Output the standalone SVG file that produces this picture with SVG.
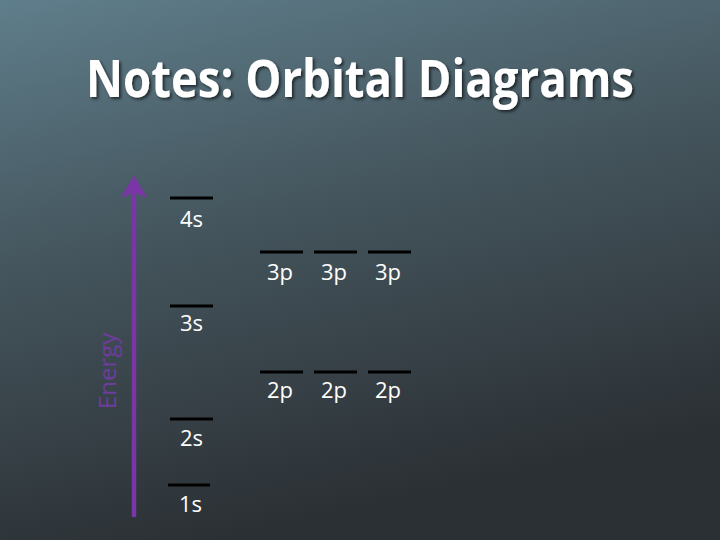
<svg xmlns="http://www.w3.org/2000/svg" width="720" height="540" viewBox="0 0 720 540">
<defs>
<linearGradient id="bg" x1="0" y1="0" x2="0.3" y2="1">
<stop offset="0" stop-color="#5f7e8b"/>
<stop offset="0.45" stop-color="#45565e"/>
<stop offset="1" stop-color="#2b3034"/>
</linearGradient>
<filter id="sh" x="-5%" y="-20%" width="110%" height="140%">
<feDropShadow dx="2" dy="2" stdDeviation="1.5" flood-color="#000" flood-opacity="0.6"/>
</filter>
<marker id="ah" markerWidth="6" markerHeight="6" refX="4" refY="3" orient="auto" markerUnits="strokeWidth">
<path d="M0,0 L5,3 L0,6 L1.3,3 Z" fill="#7a35a6"/>
</marker>
<style>
.lvl{stroke:#000;stroke-width:3}
.lbl{font-family:"Open Sans","Noto Sans",sans-serif;font-size:22px;fill:#fff}
</style>
</defs>
<rect width="720" height="540" fill="url(#bg)"/>
<text x="360" y="97" text-anchor="middle" font-family="'Open Sans','Noto Sans',sans-serif" font-weight="bold" font-size="52" fill="#fff" textLength="548" lengthAdjust="spacingAndGlyphs" filter="url(#sh)">Notes: Orbital Diagrams</text>
<g id="connectors">
<line x1="134" y1="517" x2="134" y2="180" stroke="#7a35a6" stroke-width="4.5" marker-end="url(#ah)"/>
</g>
<g id="energy"><text transform="translate(116,409) rotate(-90)" font-family="'Open Sans','Noto Sans',sans-serif" font-size="24" fill="#6e3c9c">Energy</text></g>
<g id="n4s"><line class="lvl" x1="170" y1="198" x2="213" y2="198"/><text class="lbl" x="180" y="227">4s</text></g>
<g id="n3s"><line class="lvl" x1="170" y1="306" x2="213" y2="306"/><text class="lbl" x="180" y="331">3s</text></g>
<g id="n2s"><line class="lvl" x1="170" y1="419" x2="213" y2="419"/><text class="lbl" x="180" y="446">2s</text></g>
<g id="n1s"><line class="lvl" x1="168" y1="485" x2="210" y2="485"/><text class="lbl" x="179" y="512">1s</text></g>
<g id="n3p1"><line class="lvl" x1="260" y1="252" x2="303" y2="252"/><text class="lbl" x="267" y="280">3p</text></g>
<g id="n3p2"><line class="lvl" x1="314" y1="252" x2="357" y2="252"/><text class="lbl" x="321" y="280">3p</text></g>
<g id="n3p3"><line class="lvl" x1="368" y1="252" x2="411" y2="252"/><text class="lbl" x="375" y="280">3p</text></g>
<g id="n2p1"><line class="lvl" x1="260" y1="372" x2="303" y2="372"/><text class="lbl" x="267" y="398">2p</text></g>
<g id="n2p2"><line class="lvl" x1="314" y1="372" x2="357" y2="372"/><text class="lbl" x="321" y="398">2p</text></g>
<g id="n2p3"><line class="lvl" x1="368" y1="372" x2="411" y2="372"/><text class="lbl" x="375" y="398">2p</text></g>
</svg>
